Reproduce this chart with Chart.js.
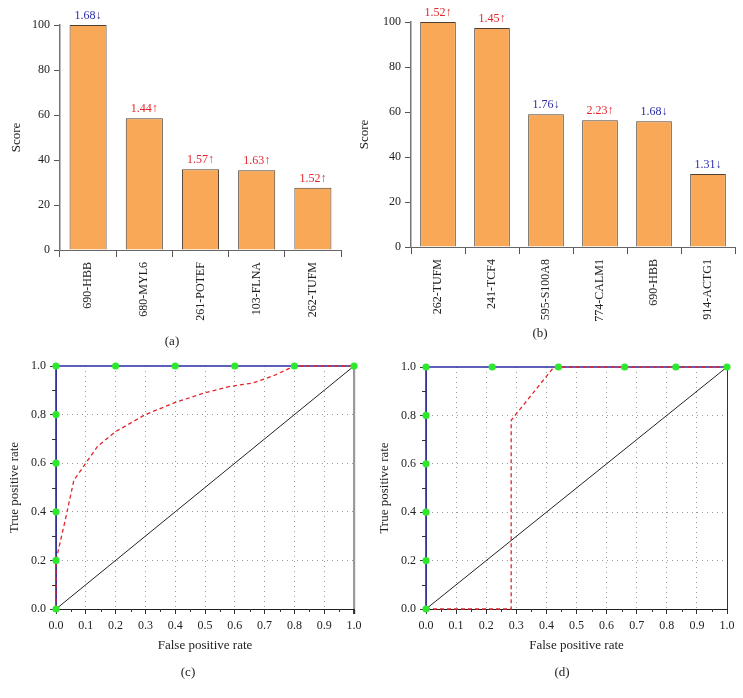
<!DOCTYPE html>
<html>
<head>
<meta charset="utf-8">
<script src="https://cdn.jsdelivr.net/npm/chart.js@4/dist/chart.umd.min.js"></script>
<style>
  body { margin: 0; background: #fff; }
  #wrap { position: relative; width: 743px; height: 698px; overflow: hidden; }
  canvas { position: absolute; }
  .lbl { position: absolute; font: 13px 'Liberation Serif', 'DejaVu Serif', serif; color: #222; transform: translate(-50%, -50%); }
</style>
</head>
<body>
<div id="wrap">
  <canvas id="chartA" width="370" height="335" style="left:0;top:0"></canvas>
  <canvas id="chartB" width="393" height="335" style="left:350px;top:0"></canvas>
  <canvas id="chartC" width="370" height="348" style="left:0;top:350px"></canvas>
  <canvas id="chartD" width="373" height="348" style="left:370px;top:350px"></canvas>
  <div class="lbl" style="left:172px;top:341px">(a)</div>
  <div class="lbl" style="left:540px;top:333px">(b)</div>
  <div class="lbl" style="left:188px;top:672px">(c)</div>
  <div class="lbl" style="left:562px;top:672px">(d)</div>
</div>
<script>
// bar panels
const genesA = ['690-HBB', '680-MYL6', '261-POTEF', '103-FLNA', '262-TUFM'];
const scoresA = [100, 58.6, 35.9, 35.4, 27.7];
const foldA = ['1.68', '1.44', '1.57', '1.63', '1.52'];
const upA = [false, true, true, true, true];

const genesB = ['262-TUFM', '241-TCF4', '595-S100A8', '774-CALM1', '690-HBB', '914-ACTG1'];
const scoresB = [100, 97.3, 59.0, 56.3, 55.9, 32.5];
const foldB = ['1.52', '1.45', '1.76', '2.23', '1.68', '1.31'];
const upB = [true, true, false, true, false, false];

// ROC panels, [fpr, tpr]
const perfectC = [[0, 0], [0, 0.2], [0, 0.4], [0, 0.6], [0, 0.8], [0, 1], [0.2, 1], [0.4, 1], [0.6, 1], [0.8, 1], [1, 1]];
const curveC = [[0, 0], [0, 0.2], [0.03, 0.36], [0.06, 0.53], [0.1, 0.6], [0.14, 0.67], [0.2, 0.73], [0.3, 0.8],
                [0.4, 0.85], [0.5, 0.89], [0.58, 0.915], [0.66, 0.93], [0.73, 0.96], [0.8, 1], [1, 1]];
const perfectD = [[0, 0], [0, 0.2], [0, 0.4], [0, 0.6], [0, 0.8], [0, 1], [0.22, 1], [0.44, 1], [0.66, 1], [0.83, 1], [1, 1]];
const curveD = [[0, 0], [0.283, 0], [0.283, 0.78], [0.425, 1], [1, 1]];
const diagonal = [[0, 0], [1, 1]];

const minorX = [0.05, 0.15, 0.25, 0.35, 0.45, 0.55, 0.65, 0.75, 0.85, 0.95];
const minorY = [0.1, 0.3, 0.5, 0.7, 0.9];

Chart.defaults.font.family = "'Liberation Serif', 'DejaVu Serif', serif";
Chart.defaults.font.size = 12;
Chart.defaults.color = '#222';

const RED = '#e2262c';
const BLUE = '#2a2aa8';

// fold change text above every bar
const foldLabels = {
  id: 'foldLabels',
  afterDatasetsDraw(chart, args, opts) {
    const ctx = chart.ctx;
    const meta = chart.getDatasetMeta(0);
    ctx.save();
    ctx.font = "12px 'Liberation Serif', 'DejaVu Serif', serif";
    ctx.textAlign = 'center';
    ctx.textBaseline = 'alphabetic';
    meta.data.forEach((bar, i) => {
      ctx.fillStyle = opts.up[i] ? RED : BLUE;
      ctx.fillText(opts.text[i] + (opts.up[i] ? '\u2191' : '\u2193'), bar.x, bar.y - 6);
    });
    ctx.restore();
  }
};

// small ticks between the labelled ones
const minorTicks = {
  id: 'minorTicks',
  afterDraw(chart) {
    const {ctx, chartArea, scales} = chart;
    ctx.save();
    ctx.strokeStyle = '#333';
    ctx.lineWidth = 1;
    ctx.beginPath();
    minorX.forEach(v => {
      const x = Math.round(scales.x.getPixelForValue(v)) + 0.5;
      ctx.moveTo(x, chartArea.bottom);
      ctx.lineTo(x, chartArea.bottom + 3);
    });
    minorY.forEach(v => {
      const y = Math.round(scales.y.getPixelForValue(v)) + 0.5;
      ctx.moveTo(chartArea.left, y);
      ctx.lineTo(chartArea.left - 4, y);
    });
    ctx.stroke();
    ctx.restore();
  }
};

function makeBar(id, genes, scores, fold, up, pad, yWidth, xHeight, titlePad) {
  new Chart(document.getElementById(id), {
    type: 'bar',
    data: {
      labels: genes,
      datasets: [{
        data: scores,
        backgroundColor: '#f8a856',
        borderColor: '#4d3f33',
        borderWidth: 1,
        barPercentage: 0.66,
        categoryPercentage: 1
      }]
    },
    options: {
      responsive: false,
      animation: false,
      layout: { padding: pad },
      plugins: {
        legend: { display: false },
        tooltip: { enabled: false },
        foldLabels: { text: fold, up: up }
      },
      scales: {
        x: {
          grid: { drawOnChartArea: false, offset: true, tickLength: 7, color: '#555' },
          border: { color: '#666', width: 1 },
          ticks: { minRotation: 90, maxRotation: 90, autoSkip: false, padding: 5 },
          afterFit: s => { s.height = xHeight; }
        },
        y: {
          min: 0, max: 100,
          ticks: { stepSize: 20, padding: 4 },
          grid: { drawOnChartArea: false, tickLength: 6, color: '#555' },
          border: { color: '#777', width: 1.5 },
          title: { display: true, text: 'Score', font: { size: 13 }, padding: { top: titlePad, bottom: 0 } },
          afterFit: s => { s.width = yWidth; }
        }
      }
    },
    plugins: [foldLabels]
  });
}

function toXY(arr) {
  return arr.map(p => ({ x: p[0], y: p[1] }));
}

function isEdge(v) {
  return Math.abs(v) < 1e-6 || Math.abs(v - 1) < 1e-6;
}

function makeRoc(id, perfect, curve, pad, rightColor, rightWidth) {
  new Chart(document.getElementById(id), {
    type: 'scatter',
    data: {
      datasets: [
        { data: toXY(perfect), showLine: false, pointRadius: 3.6, pointBackgroundColor: '#2ee82e',
          pointBorderWidth: 0, order: 0, clip: false },
        { data: toXY(curve), showLine: true, borderColor: RED, borderWidth: 1.3, borderDash: [4, 3],
          pointRadius: 0, order: 1, clip: false },
        { data: toXY(diagonal), showLine: true, borderColor: '#222', borderWidth: 1,
          pointRadius: 0, order: 2, clip: false },
        { data: toXY(perfect), showLine: true, borderColor: BLUE, borderWidth: 1.6,
          pointRadius: 0, order: 3, clip: false }
      ]
    },
    options: {
      responsive: false,
      animation: false,
      layout: { padding: pad },
      plugins: { legend: { display: false }, tooltip: { enabled: false } },
      scales: {
        x: {
          type: 'linear', min: 0, max: 1,
          ticks: { stepSize: 0.1, padding: 5, callback: v => v.toFixed(1) },
          grid: {
            tickLength: 5,
            tickColor: '#333',
            color: c => {
              if (Math.abs(c.tick.value - 1) < 1e-6) return rightColor;
              return Math.abs(c.tick.value) < 1e-6 ? 'rgba(0,0,0,0)' : '#9a9a9a';
            },
            lineWidth: c => Math.abs(c.tick.value - 1) < 1e-6 ? rightWidth : 1
          },
          border: {
            color: '#222', width: 1,
            dash: c => (c.type === 'tick' && !isEdge(c.tick.value)) ? [1, 4] : []
          },
          title: { display: true, text: 'False positive rate', font: { size: 13 }, padding: 0 },
          afterFit: s => { s.height = 44; }
        },
        y: {
          type: 'linear', min: 0, max: 1,
          ticks: { stepSize: 0.2, padding: 4, callback: v => v.toFixed(1) },
          grid: {
            tickLength: 6,
            tickColor: '#333',
            color: c => isEdge(c.tick.value) ? 'rgba(0,0,0,0)' : '#9a9a9a'
          },
          border: {
            color: '#555', width: 1,
            dash: c => (c.type === 'tick' && !isEdge(c.tick.value)) ? [1, 4] : []
          },
          title: { display: true, text: 'True positive rate', font: { size: 13 }, padding: { top: 7, bottom: 0 } },
          afterFit: s => { s.width = 56; }
        }
      }
    },
    plugins: [minorTicks]
  });
}

makeBar('chartA', genesA, scoresA, foldA, upA, { top: 25, right: 29, left: 0, bottom: 0 }, 60, 85, 9);
makeBar('chartB', genesB, scoresB, foldB, upB, { top: 22, right: 8, left: 0, bottom: 0 }, 61, 88, 7);
makeRoc('chartC', perfectC, curveC, { top: 16, right: 16, left: 0, bottom: 45 }, '#999', 2.2);
makeRoc('chartD', perfectD, curveD, { top: 17, right: 16, left: 0, bottom: 45 }, '#333', 1);
</script>
</body>
</html>
